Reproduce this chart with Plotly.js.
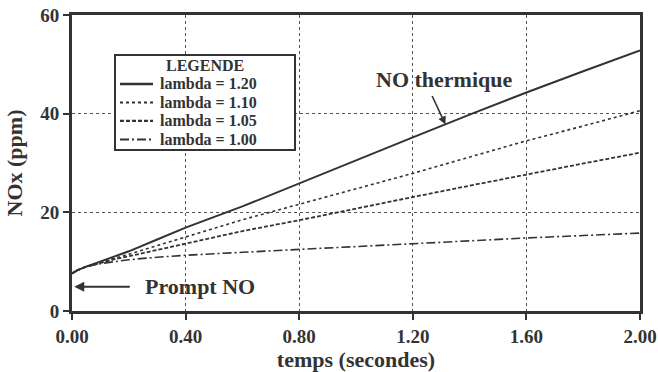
<!DOCTYPE html>
<html>
<head>
<meta charset="utf-8">
<script src="https://cdn.plot.ly/plotly-3.0.1.min.js"></script>
<style>
  html, body { margin: 0; padding: 0; background: #ffffff; }
  #chart { width: 658px; height: 372px; }
</style>
</head>
<body>
<div id="chart"></div>
<script>
// Temps de séjour (s)
const temps = [0, 0.02, 0.05, 0.1, 0.15, 0.2, 0.3, 0.4, 0.6, 0.8, 1.0, 1.2, 1.4, 1.6, 1.8, 2.0];

// NOx (ppm) pour chaque richesse
const lambda120 = [7.6, 8.3, 9.0, 10.0, 11.0, 12.1, 14.5, 16.9, 21.2, 25.9, 30.6, 35.2, 39.8, 44.3, 48.6, 52.8];
const lambda110 = [7.6, 8.3, 9.0, 9.9, 10.7, 11.5, 13.2, 15.0, 18.5, 21.6, 24.7, 27.9, 31.2, 34.5, 37.5, 40.6];
const lambda105 = [7.6, 8.3, 9.0, 9.8, 10.5, 11.1, 12.4, 13.6, 16.2, 18.4, 20.8, 23.1, 25.4, 27.7, 29.9, 32.1];
const lambda100 = [7.6, 8.3, 9.0, 9.6, 10.0, 10.4, 10.9, 11.3, 11.9, 12.5, 13.0, 13.6, 14.2, 14.8, 15.3, 15.8];

const seriesNames = ['lambda = 1.20', 'lambda = 1.10', 'lambda = 1.05', 'lambda = 1.00'];
const seriesValues = [lambda120, lambda110, lambda105, lambda100];
const seriesDash = ['solid', 'dot', '4px,2px', '9px,3px,2px,3px'];
const seriesWidth = [2, 1.6, 1.8, 1.6];

const ink = '#333333';
const serif = 'Liberation Serif, Times New Roman, serif';

const traces = seriesNames.map((name, i) => ({
  type: 'scatter',
  mode: 'lines',
  name: name,
  x: temps,
  y: seriesValues[i],
  line: { color: ink, width: seriesWidth[i], dash: seriesDash[i] },
  hoverinfo: 'skip'
}));

// Encadré "LEGENDE" dessiné en coordonnées papier, avec un pas de ligne serré
const box = { x0: 0.0757, x1: 0.3926, y0: 0.544, y1: 0.865 };
const titleY = 0.828;
const rowTop = 0.767;
const rowStep = 0.0625;
const sampleX = [0.0845, 0.1426];
const labelX = 0.153;
const legendFont = { family: serif, size: 16, color: ink, weight: 'bold' };

const shapes = [
  { type: 'rect', xref: 'paper', yref: 'paper', layer: 'above',
    x0: box.x0, x1: box.x1, y0: box.y0, y1: box.y1,
    fillcolor: '#ffffff', line: { color: ink, width: 2 } }
];
const legendNotes = [
  { xref: 'paper', yref: 'paper', x: (box.x0 + box.x1) / 2, y: titleY, text: 'LEGENDE',
    showarrow: false, xanchor: 'center', yanchor: 'middle', borderpad: 0, font: legendFont }
];
seriesNames.forEach((name, i) => {
  const yy = rowTop - i * rowStep;
  shapes.push({ type: 'line', xref: 'paper', yref: 'paper', layer: 'above',
    x0: sampleX[0], x1: sampleX[1], y0: yy, y1: yy,
    line: { color: ink, width: seriesWidth[i] + 0.4, dash: seriesDash[i] } });
  legendNotes.push({ xref: 'paper', yref: 'paper', x: labelX, y: yy, text: name,
    showarrow: false, xanchor: 'left', yanchor: 'middle', borderpad: 0, font: legendFont });
});

const layout = {
  width: 658,
  height: 372,
  margin: { l: 72, r: 18, t: 15, b: 61 },
  paper_bgcolor: '#ffffff',
  plot_bgcolor: '#ffffff',
  font: { family: serif, color: ink, size: 17, weight: 'bold' },
  showlegend: false,
  xaxis: {
    range: [0, 2.0],
    dtick: 0.4, tick0: 0,
    tickformat: '.2f',
    ticks: 'outside', ticklen: 6, tickwidth: 2, tickcolor: ink,
    showline: true, linecolor: ink, linewidth: 3, mirror: true,
    showgrid: true, gridcolor: '#555555', griddash: 'dot', gridwidth: 1.3,
    zeroline: false,
    tickfont: { family: serif, size: 19, color: ink, weight: 'bold' },
    title: { text: 'temps (secondes)', standoff: 2, font: { family: serif, size: 22, color: ink, weight: 'bold' } }
  },
  yaxis: {
    range: [0, 60],
    dtick: 20, tick0: 0,
    ticks: 'outside', ticklen: 6, tickwidth: 2, tickcolor: ink,
    showline: true, linecolor: ink, linewidth: 3, mirror: true,
    showgrid: true, gridcolor: '#555555', griddash: 'dot', gridwidth: 1.3,
    zeroline: false,
    tickfont: { family: serif, size: 19, color: ink, weight: 'bold' },
    title: { text: 'NOx (ppm)', standoff: 12, font: { family: serif, size: 22, color: ink, weight: 'bold' } }
  },
  shapes: shapes,
  annotations: [
    { x: 1.31, y: 47.0, xref: 'x', yref: 'y', text: 'NO thermique', showarrow: false,
      font: { family: serif, size: 22, color: ink, weight: 'bold' } },
    { x: 1.315, y: 37.8, xref: 'x', yref: 'y', text: '', showarrow: true,
      ax: -14, ay: -30, arrowhead: 2, arrowsize: 1, arrowwidth: 1.6, arrowcolor: ink },
    { x: 0.45, y: 4.9, xref: 'x', yref: 'y', text: 'Prompt NO', showarrow: false,
      font: { family: serif, size: 22, color: ink, weight: 'bold' } },
    { x: 0.008, y: 4.9, xref: 'x', yref: 'y', text: '', showarrow: true,
      ax: 57, ay: 0, arrowhead: 2, arrowsize: 1, arrowwidth: 2, arrowcolor: ink }
  ].concat(legendNotes)
};

Plotly.newPlot('chart', traces, layout, { staticPlot: true, displayModeBar: false });
</script>
</body>
</html>
